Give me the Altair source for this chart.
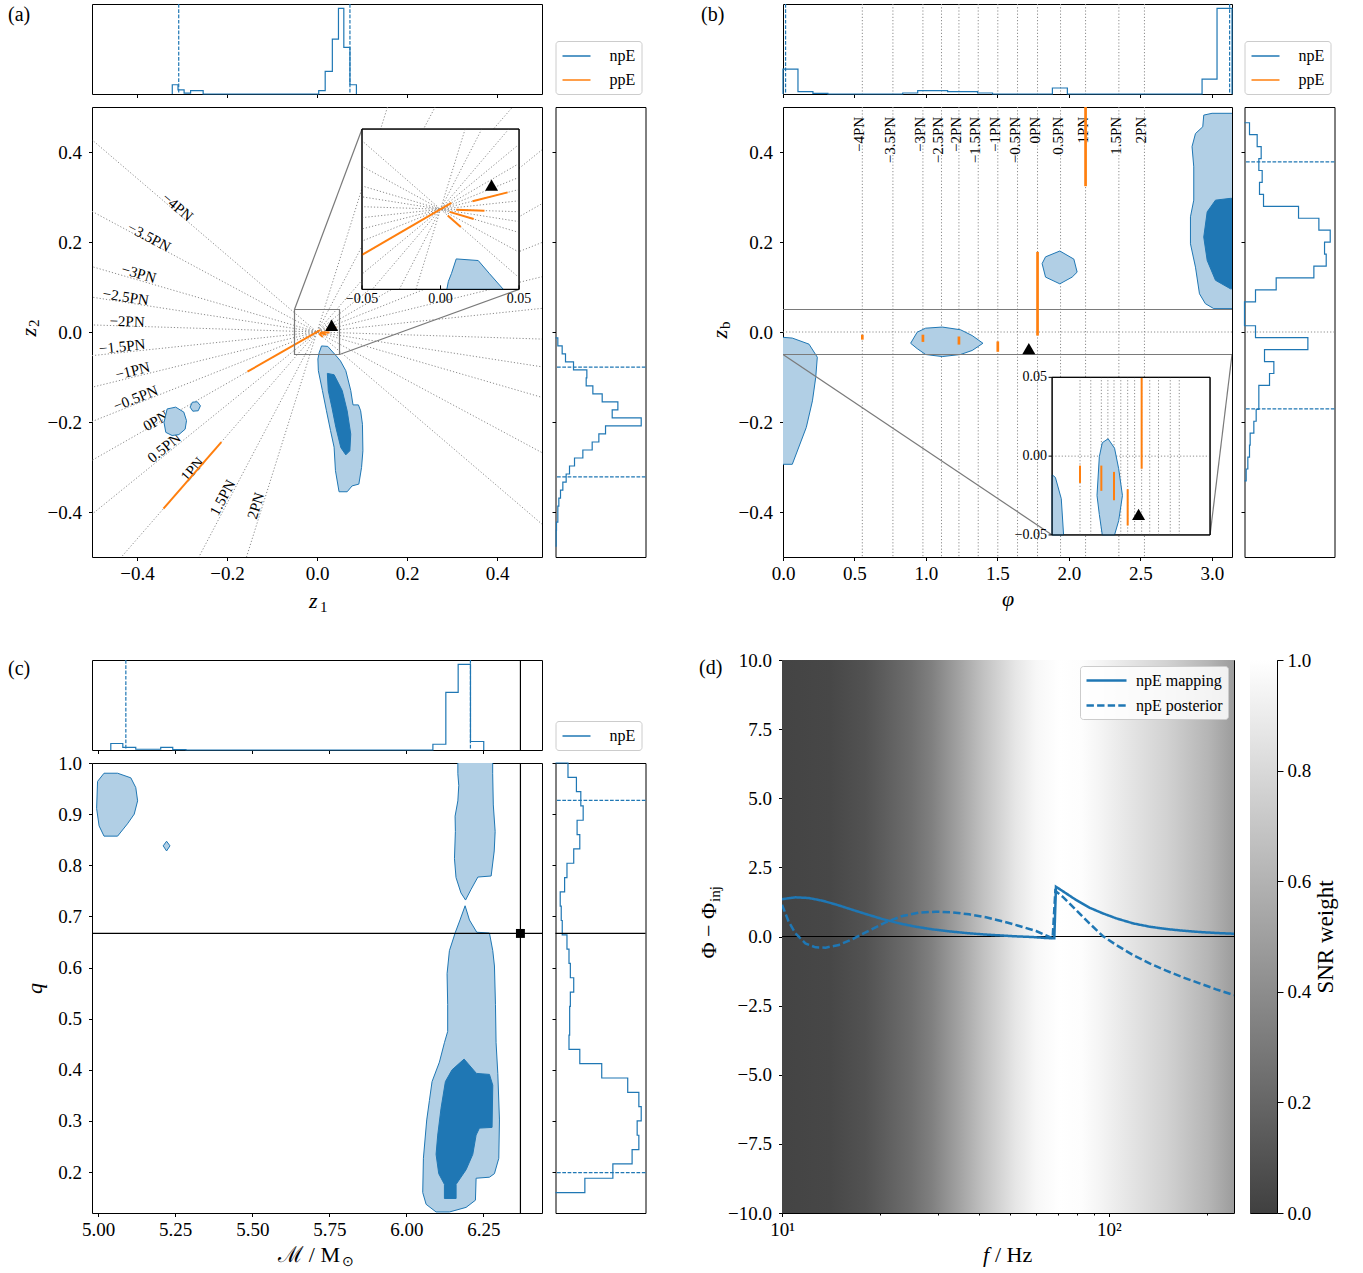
import numpy as np
import pandas as pd
import altair as alt

BLUE, ORANGE, LIGHT = "#1f77b4", "#ff7f0e", "#b1cfe5"
GRAY, DOTC = "#7a7a7a", "#8c8c8c"
FONT = "Liberation Serif"
PI = float(np.pi)
DOT = [1.2, 2.0]
DASH = [3.7, 1.6]
TICK_FONT = 19

# ---------------- PN orders (shared by a and b) ----------------
pn_labels = ["−4PN", "−3.5PN", "−3PN", "−2.5PN", "−2PN", "−1.5PN", "−1PN",
             "−0.5PN", "0PN", "0.5PN", "1PN", "1.5PN", "2PN"]
pn_phi = [0.555, 0.769, 0.979, 1.109, 1.231, 1.366, 1.503, 1.641, 1.781, 1.942, 2.117, 2.350, 2.529]
pn_theta_deg = [139.5, 151.8, 163.8, 171.2, 178.2, 186.0, 193.8, 201.7, 209.7, 219.0, 229.0, 242.3, 252.6]
pn_lab_x = [-0.310, -0.373, -0.396, -0.425, -0.422, -0.433, -0.410, -0.403, -0.358, -0.340, -0.277, -0.210, -0.136]
pn_lab_y = [0.278, 0.211, 0.130, 0.078, 0.024, -0.032, -0.086, -0.147, -0.197, -0.257, -0.305, -0.368, -0.386]

# ppE intervals along PN directions
ppe_pn = [0, 2, 4, 6, 8, 10]
ppe_lo = [-0.017, -0.022, -0.028, -0.044, -0.008, 0.324]
ppe_hi = [-0.006, -0.006, -0.010, -0.021, 0.178, 0.520]

# ---------------- panel (a) ----------------
a_main_x = [0.010, 0.024, 0.031, 0.040, 0.052, 0.064, 0.075, 0.080, 0.092, 0.097, 0.101, 0.102, 0.099,
            0.093, 0.078, 0.067, 0.049, 0.041, 0.038, 0.030, 0.021, 0.012, 0.003, 0.002, 0.005, 0.007]
a_main_y = [-0.031, -0.032, -0.040, -0.050, -0.064, -0.086, -0.130, -0.162, -0.162, -0.175, -0.205, -0.264,
            -0.301, -0.338, -0.342, -0.355, -0.355, -0.308, -0.256, -0.219, -0.175, -0.130, -0.086, -0.060,
            -0.045, -0.040]
a_dark_x = [0.023, 0.038, 0.056, 0.067, 0.075, 0.073, 0.064, 0.053, 0.042, 0.033, 0.025]
a_dark_y = [-0.092, -0.095, -0.130, -0.175, -0.227, -0.264, -0.273, -0.257, -0.212, -0.167, -0.130]
a_blob1_x = [-0.333, -0.314, -0.296, -0.290, -0.293, -0.307, -0.322, -0.336, -0.340]
a_blob1_y = [-0.171, -0.167, -0.178, -0.197, -0.216, -0.228, -0.230, -0.223, -0.201]
a_blob2_x = [-0.277, -0.266, -0.259, -0.264, -0.276, -0.282]
a_blob2_y = [-0.156, -0.155, -0.164, -0.175, -0.176, -0.167]
a_tri = (0.0325, 0.015)

a_top_c1_edges = [-0.3216, -0.3089, -0.2953, -0.2809, -0.2670, -0.2530]
a_top_c1_h = [0.108, 0.047, 0.010, 0.039, 0.039]
a_top_c2_edges = [0.0038, 0.0182, 0.0341, 0.0477, 0.0596, 0.0732, 0.0876]
a_top_c2_h = [0.039, 0.264, 0.640, 1.000, 0.543, 0.108]
a_top_q = [-0.3073, 0.0732]
a_right_top, a_right_bin = -0.013, 0.0178
a_right_h = [7, 20, 30, 54, 94, 92, 112, 140, 187, 170, 257, 150, 130, 110, 82, 57, 42, 32, 22, 15, 10, 7, 7, 3, 2, 2]
a_right_q = [-0.078, -0.322]

# ---------------- panel (b) ----------------
b_right_x = [2.944, 3.002, 3.25, 3.25, 3.014, 2.955, 2.914, 2.886, 2.851, 2.851, 2.874, 2.874, 2.862, 2.886, 2.937]
b_right_y = [0.482, 0.486, 0.486, 0.052, 0.052, 0.063, 0.085, 0.144, 0.196, 0.256, 0.293, 0.367, 0.412, 0.441, 0.456]
b_rdark_x = [3.25, 3.131, 3.026, 2.968, 2.944, 2.968, 3.026, 3.131, 3.25]
b_rdark_y = [0.297, 0.297, 0.293, 0.267, 0.211, 0.159, 0.115, 0.096, 0.096]
b_left_x = [-0.1, 0.007, 0.065, 0.182, 0.240, 0.229, 0.206, 0.163, 0.065, -0.1]
b_left_y = [-0.012, -0.012, -0.0135, -0.027, -0.056, -0.101, -0.153, -0.212, -0.294, -0.294]
b_mid_x = [0.893, 0.939, 0.998, 1.114, 1.242, 1.324, 1.399, 1.324, 1.242, 1.114, 0.998, 0.939]
b_mid_y = [-0.025, -0.0004, 0.0085, 0.011, 0.005, -0.008, -0.025, -0.041, -0.050, -0.0546, -0.050, -0.037]
b_hex_x = [1.813, 1.837, 1.937, 2.035, 2.058, 2.023, 1.937, 1.837]
b_hex_y = [0.152, 0.167, 0.180, 0.162, 0.133, 0.122, 0.107, 0.122]
b_tri = (1.72, -0.037)

b_top_h = [25, 2.3, 0.7, 0, 0, 0, 0, 0, 1, 3.3, 3.3, 2.3, 2.3, 1, 0, 0, 0, 0, 6, 0, 0, 0, 0, 0, 0, 0, 0, 0, 15, 86]
b_top_q = [0.018, 3.125]
b_right_range = [0.465, -0.331]
b_right_h = [15, 38, 50, 43, 53, 45, 57, 162, 223, 257, 240, 245, 208, 95, 33, 0, 0, 33, 190, 60, 88, 75, 43, 43,
             35, 28, 17, 15, 10, 5]
b_right_q = [0.378, -0.171]

# ---------------- panel (c) ----------------
c_up_x = [6.167, 6.280, 6.280, 6.282, 6.288, 6.285, 6.275, 6.232, 6.210, 6.192, 6.177, 6.161, 6.156, 6.159,
          6.158, 6.167, 6.170, 6.167]
c_up_y = [1.01, 1.01, 0.979, 0.918, 0.866, 0.828, 0.779, 0.777, 0.753, 0.732, 0.746, 0.776, 0.813, 0.866,
          0.896, 0.926, 0.956, 0.979]
c_low_x = [6.1905, 6.2046, 6.2284, 6.2695, 6.2803, 6.2857, 6.289, 6.291, 6.2966, 6.302, 6.2998, 6.2857, 6.2695,
           6.2262, 6.224, 6.1937, 6.1396, 6.0963, 6.064, 6.053, 6.0552, 6.066, 6.0747, 6.0833, 6.1071, 6.1234,
           6.134, 6.134, 6.132, 6.1396, 6.159, 6.174]
c_low_y = [0.7208, 0.693, 0.669, 0.6675, 0.633, 0.603, 0.528, 0.453, 0.393, 0.302, 0.227, 0.197, 0.190, 0.188,
           0.145, 0.131, 0.122, 0.122, 0.137, 0.160, 0.227, 0.302, 0.340, 0.377, 0.415, 0.453, 0.475, 0.528,
           0.588, 0.633, 0.669, 0.693]
c_dark_x = [6.1872, 6.2273, 6.2695, 6.2803, 6.278, 6.2370, 6.2262, 6.2154, 6.1937, 6.1613, 6.1613, 6.1234,
            6.1234, 6.105, 6.0963, 6.1017, 6.1125, 6.1266, 6.1482]
c_dark_y = [0.421, 0.393, 0.391, 0.370, 0.2874, 0.286, 0.2724, 0.2347, 0.2047, 0.176, 0.1484, 0.1484, 0.176,
            0.197, 0.2347, 0.2724, 0.325, 0.377, 0.400]
c_blob_x = [4.998, 5.019, 5.063, 5.106, 5.122, 5.128, 5.117, 5.095, 5.063, 5.019, 5.003, 4.995]
c_blob_y = [0.964, 0.980, 0.980, 0.971, 0.952, 0.926, 0.900, 0.881, 0.857, 0.857, 0.877, 0.911]
c_dia_x = [5.222, 5.233, 5.222, 5.211]
c_dia_y = [0.847, 0.838, 0.828, 0.838]
c_inj = (6.370, 0.6667)

c_top_c1_edges = [5.041, 5.080, 5.122, 5.161, 5.203, 5.242, 5.285]
c_top_c1_h = [0.076, 0.031, 0.009, 0.009, 0.031, 0.004]
c_top_c2_edges = [6.086, 6.128, 6.168, 6.208, 6.251]
c_top_c2_h = [0.067, 0.673, 1.0, 0.099]
c_top_q = [5.0898, 6.2078]
c_right_range = [1.0, 0.16]
c_right_h = [37, 62, 75, 82, 64, 72, 54, 34, 27, 14, 17, 20, 34, 40, 44, 54, 44, 42, 42, 40, 72, 137, 214, 247,
             254, 242, 247, 227, 170, 87]
c_right_q = [0.927, 0.199]

# ---------------- panel (d) ----------------
solid_f = [10.0, 10.99, 12.07, 13.27, 14.58, 16.02, 18.03, 20.27, 22.81, 25.64, 28.84, 32.43, 36.48, 41.0, 46.1,
           51.9, 58.3, 64.1, 68.1, 68.9, 74.0, 79.4, 87.2, 95.8, 105.3, 118.5, 133.2, 149.8, 168.5, 189.4, 213.0,
           241.5]
solid_y = [1.35, 1.417, 1.392, 1.296, 1.163, 1.007, 0.814, 0.633, 0.476, 0.355, 0.259, 0.187, 0.127, 0.078, 0.042,
           0.006, -0.018, -0.054, -0.066, 1.80, 1.561, 1.32, 1.043, 0.838, 0.657, 0.476, 0.355, 0.271, 0.211,
           0.163, 0.127, 0.10]
dashed_f = [10.0, 10.48, 10.99, 11.79, 12.66, 13.59, 14.92, 16.39, 18.45, 20.75, 23.35, 26.27, 29.55, 33.25, 37.4,
            42.1, 47.3, 53.2, 59.9, 67.3, 68.6, 72.2, 79.4, 87.2, 95.8, 105.3, 118.5, 133.2, 149.8, 168.5, 189.4,
            213.0, 241.5]
dashed_y = [1.15, 0.536, 0.115, -0.247, -0.392, -0.404, -0.307, -0.102, 0.211, 0.512, 0.741, 0.862, 0.898, 0.874,
            0.802, 0.693, 0.549, 0.380, 0.199, -0.066, 1.65, 1.441, 0.958, 0.476, 0.018, -0.307, -0.669, -0.970,
            -1.236, -1.477, -1.694, -1.911, -2.12]
snr_f = [10, 14, 18, 20.3, 24.9, 28.8, 33.7, 41, 45.3, 51.9, 59.9, 70.5, 82.5, 93.5, 111, 150, 202, 241.5]
snr_w = [0.022, 0.038, 0.095, 0.148, 0.242, 0.336, 0.482, 0.67, 0.754, 0.869, 0.958, 1.0, 0.99, 0.948, 0.88,
         0.765, 0.613, 0.482]
F_MAX = 241.5


# ================= helpers =================
def scale(lo, hi, **kw):
    return alt.Scale(domain=[lo, hi], nice=False, zero=False, **kw)


class Panel:
    """Shared scales + axes so that every layer carries identical axis definitions."""

    def __init__(self, sx, sy, ax=None, ay=None):
        self.sx, self.sy, self.ax, self.ay = sx, sy, ax, ay

    def X(self, f="x"):
        return alt.X(f"{f}:Q", scale=self.sx, axis=self.ax)

    def Y(self, f="y"):
        return alt.Y(f"{f}:Q", scale=self.sy, axis=self.ay)


def poly_layer(P, polys, fill, stroke, sw=1.0):
    rows = []
    for i, (xs, ys) in enumerate(polys):
        for k, (x, y) in enumerate(zip(xs, ys)):
            rows.append({"pid": i, "k": k, "x": float(x), "y": float(y)})
    return alt.Chart(pd.DataFrame(rows)).mark_line(
        interpolate="linear-closed", fill=fill, stroke=stroke, strokeWidth=sw, clip=True
    ).encode(x=P.X(), y=P.Y(), detail="pid:N", order="k:Q")


def seg_layer(P, df, color, sw, dash=None):
    kw = dict(color=color, strokeWidth=sw, clip=True)
    if dash:
        kw["strokeDash"] = dash
    return alt.Chart(df).mark_rule(**kw).encode(x=P.X(), y=P.Y(), x2="x2:Q", y2="y2:Q")


def vrule(P, xs, color, sw, dash=None):
    kw = dict(color=color, strokeWidth=sw)
    if dash:
        kw["strokeDash"] = dash
    return alt.Chart(pd.DataFrame({"x": list(xs)})).mark_rule(**kw).encode(x=P.X())


def hrule(P, ys, color, sw, dash=None):
    kw = dict(color=color, strokeWidth=sw)
    if dash:
        kw["strokeDash"] = dash
    return alt.Chart(pd.DataFrame({"y": list(ys)})).mark_rule(**kw).encode(y=P.Y())


def tri(P, xs, ys):
    return alt.Chart(pd.DataFrame({"x": list(xs), "y": list(ys)})).mark_point(
        shape="triangle-up", filled=True, color="black", size=170, opacity=1).encode(x=P.X(), y=P.Y())


def box(P, x0, x1, y0, y1, fill, stroke, sw):
    return alt.Chart(pd.DataFrame({"x": [x0], "x2": [x1], "y": [y0], "y2": [y1]})).mark_rect(
        fill=fill, stroke=stroke, strokeWidth=sw).encode(x=P.X(), x2="x2:Q", y=P.Y(), y2="y2:Q")


def txt(text, x, y, size=20, **kw):
    return alt.Chart(pd.DataFrame({"t": [text]})).mark_text(fontSize=size, color="black", **kw).encode(
        x=alt.value(x), y=alt.value(y), text="t:N")


def clip_poly(xs, ys, xmin, xmax, ymin, ymax):
    pts = list(zip(xs, ys))

    def _clip(pts, inside, inter):
        out = []
        for i in range(len(pts)):
            cur, prev = pts[i], pts[i - 1]
            if inside(cur):
                if not inside(prev):
                    out.append(inter(prev, cur))
                out.append(cur)
            elif inside(prev):
                out.append(inter(prev, cur))
        return out

    def ix(p, q, xv):
        t = (xv - p[0]) / (q[0] - p[0])
        return (xv, p[1] + t * (q[1] - p[1]))

    def iy(p, q, yv):
        t = (yv - p[1]) / (q[1] - p[1])
        return (p[0] + t * (q[0] - p[0]), yv)

    for inside, inter in [(lambda p: p[0] >= xmin, lambda p, q: ix(p, q, xmin)),
                          (lambda p: p[0] <= xmax, lambda p, q: ix(p, q, xmax)),
                          (lambda p: p[1] >= ymin, lambda p, q: iy(p, q, ymin)),
                          (lambda p: p[1] <= ymax, lambda p, q: iy(p, q, ymax))]:
        if not pts:
            break
        pts = _clip(pts, inside, inter)
    if len(pts) < 3:
        return None
    return [p[0] for p in pts], [p[1] for p in pts]


def step_path(clusters, horizontal=True):
    xs, ys = [], []
    for edges, hs in clusters:
        xs.append(edges[0]); ys.append(0.0)
        for i, h in enumerate(hs):
            xs += [edges[i], edges[i + 1]]; ys += [h, h]
        xs.append(edges[-1]); ys.append(0.0)
    if horizontal:
        return pd.DataFrame({"x": xs, "y": ys, "k": list(range(len(xs)))})
    return pd.DataFrame({"x": ys, "y": xs, "k": list(range(len(xs)))})


def hist_layer(P, df):
    return alt.Chart(df).mark_line(color=BLUE, strokeWidth=1.2).encode(x=P.X(), y=P.Y(), order="k:Q")


def norm(h):
    h = np.asarray(h, dtype=float)
    return list(h / h.max())


def legend_cell(names, colors, extra=()):
    df = pd.DataFrame({"x": [5.0, 6.0] * len(names), "y": [5.0, 6.0] * len(names),
                       "s": sum([[n, n] for n in names], [])})
    ch = alt.Chart(df).mark_line(clip=True, strokeWidth=1.5).encode(
        x=alt.X("x:Q", scale=alt.Scale(domain=[0, 1]), axis=None),
        y=alt.Y("y:Q", scale=alt.Scale(domain=[0, 1]), axis=None),
        color=alt.Color("s:N", scale=alt.Scale(domain=names, range=colors),
                        legend=alt.Legend(orient="bottom-left", offset=0, title=None,
                                          symbolType="M-1,0H2.5", symbolSize=256, symbolStrokeWidth=1.5,
                                          labelFont=FONT, labelFontSize=16, labelColor="black",
                                          fillColor="white", strokeColor="#cccccc", cornerRadius=3,
                                          padding=6, rowPadding=7, labelOffset=30)))
    return alt.layer(ch, *extra).properties(width=90, height=90, view=alt.ViewBackground(stroke="transparent"))


def indep(ch):
    return ch.resolve_scale(color="independent", strokeDash="independent").resolve_legend(
        color="independent", strokeDash="independent")


def tick_axis(values):
    return alt.Axis(values=values, labels=False, title=None)


hist_scale = scale(0, 1.05)

# ================= panel (a) main =================
ticks_a = [-0.4, -0.2, 0.0, 0.2, 0.4]
PA = Panel(scale(-0.5, 0.5), scale(-0.5, 0.5),
           alt.Axis(values=ticks_a, format=".1f", title=None),
           alt.Axis(values=ticks_a, format=".1f", title=None))

rad = []
for lab, th in zip(pn_labels, pn_theta_deg):
    c, s = np.cos(np.radians(th)), np.sin(np.radians(th))
    rad += [{"pn": lab, "k": 0, "x": -c, "y": -s}, {"pn": lab, "k": 1, "x": c, "y": s}]
LA = [alt.Chart(pd.DataFrame(rad)).mark_line(color=DOTC, strokeWidth=1, strokeDash=DOT, clip=True).encode(
    x=PA.X(), y=PA.Y(), detail="pn:N", order="k:Q")]

lab_df = pd.DataFrame({"x": pn_lab_x, "y": pn_lab_y, "t": pn_labels,
                       "ang": [(180.0 - th) % 360.0 for th in pn_theta_deg]})
LA.append(alt.Chart(lab_df).mark_text(fontSize=15, align="center", baseline="middle", color="black").encode(
    x=PA.X(), y=PA.Y(), text="t:N", angle=alt.Angle("ang:Q", scale=None)))

a_light_polys = [(a_main_x, a_main_y), (a_blob1_x, a_blob1_y), (a_blob2_x, a_blob2_y)]
LA.append(poly_layer(PA, a_light_polys, LIGHT, BLUE))
LA.append(poly_layer(PA, [(a_dark_x, a_dark_y)], BLUE, BLUE))


def ppe_a(limit=None):
    rows = []
    for idx, lo, hi in zip(ppe_pn, ppe_lo, ppe_hi):
        th = np.radians(pn_theta_deg[idx]); c, s = np.cos(th), np.sin(th)
        if limit is not None:
            t = limit / max(abs(c), abs(s)); lo, hi = max(lo, -t), min(hi, t)
            if lo >= hi:
                continue
        rows.append({"x": lo * c, "y": lo * s, "x2": hi * c, "y2": hi * s})
    return pd.DataFrame(rows)


LA.append(seg_layer(PA, ppe_a(), ORANGE, 2.0))
LA.append(tri(PA, [a_tri[0]], [a_tri[1]]))
LA.append(box(PA, -0.05, 0.05, -0.05, 0.05, "transparent", GRAY, 1.2))

IA = (0.100, 0.449, 0.0947, 0.451)


def map_a(u, v):
    u = np.asarray(u, dtype=float); v = np.asarray(v, dtype=float)
    return IA[0] + (u + 0.05) / 0.1 * (IA[1] - IA[0]), IA[2] + (v + 0.05) / 0.1 * (IA[3] - IA[2])


LA.append(seg_layer(PA, pd.DataFrame({"x": [-0.05, 0.05], "y": [0.05, -0.05], "x2": [IA[0], IA[1]],
                                      "y2": [IA[3], IA[2]]}), GRAY, 1.2))
LA.append(box(PA, IA[0], IA[1], IA[2], IA[3], "white", "black", 1))
irad = []
for lab, th in zip(pn_labels, pn_theta_deg):
    c, s = np.cos(np.radians(th)), np.sin(np.radians(th))
    t = 0.05 / max(abs(c), abs(s))
    (x1, x2), (y1, y2) = map_a([-t * c, t * c], [-t * s, t * s])
    irad.append({"x": x1, "y": y1, "x2": x2, "y2": y2})
LA.append(seg_layer(PA, pd.DataFrame(irad), DOTC, 1, DOT))
ipolys = []
for xs, ys in a_light_polys:
    cp = clip_poly(xs, ys, -0.05, 0.05, -0.05, 0.05)
    if cp:
        mx, my = map_a(cp[0], cp[1]); ipolys.append((mx, my))
if ipolys:
    LA.append(poly_layer(PA, ipolys, LIGHT, BLUE))
ip = ppe_a(limit=0.05)
ip["x"], ip["y"] = map_a(ip["x"], ip["y"])
ip["x2"], ip["y2"] = map_a(ip["x2"], ip["y2"])
LA.append(seg_layer(PA, ip, ORANGE, 2.0))
tx, ty = map_a([a_tri[0]], [a_tri[1]])
LA.append(tri(PA, tx, ty))
LA.append(box(PA, IA[0], IA[1], IA[2], IA[3], "transparent", "black", 1))
itk_x, _ = map_a([-0.05, 0.0, 0.05], [0, 0, 0])
LA.append(alt.Chart(pd.DataFrame({"x": itk_x, "y": [IA[2]] * 3, "t": ["−0.05", "0.00", "0.05"]})).mark_text(
    fontSize=14, baseline="top", dy=3, color="black").encode(x=PA.X(), y=PA.Y(), text="t:N"))
LA.append(seg_layer(PA, pd.DataFrame({"x": itk_x, "x2": itk_x, "y": [IA[2]] * 3, "y2": [IA[2] + 0.009] * 3}),
                    "black", 1))
LA += [txt("z", 217, 501, 22, align="left", baseline="alphabetic", fontStyle="italic"),
       txt("1", 228, 505, 15, align="left", baseline="alphabetic"),
       txt("z", -56, 221, 22, angle=270, align="right", baseline="alphabetic", fontStyle="italic"),
       txt("2", -53, 220, 15, angle=270, align="left", baseline="alphabetic")]
main_a = alt.layer(*LA).properties(width=450, height=450)

# top/right hist (a)
PAt = Panel(PA.sx, hist_scale, tick_axis(ticks_a), None)
top_a = alt.layer(
    hist_layer(PAt, step_path([(a_top_c1_edges, a_top_c1_h), (a_top_c2_edges, a_top_c2_h)])),
    vrule(PAt, a_top_q, BLUE, 1.2, DASH),
    txt("(a)", -84, 1, 20, align="left", baseline="top"),
).properties(width=450, height=90)

PAr = Panel(hist_scale, PA.sy, None, tick_axis(ticks_a))
a_r_edges = [a_right_top - a_right_bin * i for i in range(len(a_right_h) + 1)]
right_a = alt.layer(
    hist_layer(PAr, step_path([(a_r_edges, norm(a_right_h))], horizontal=False)),
    hrule(PAr, a_right_q, BLUE, 1.2, DASH),
).properties(width=90, height=450)
leg_a = legend_cell(["npE", "ppE"], [BLUE, ORANGE])

# ================= panel (b) main =================
ticks_bx = [0.0, 0.5, 1.0, 1.5, 2.0, 2.5, 3.0]
PB = Panel(scale(0, PI), scale(-0.5, 0.5),
           alt.Axis(values=ticks_bx, format=".1f", title="φ", titleFontStyle="italic"),
           alt.Axis(values=ticks_a, format=".1f", title=None))
pn_df = pd.DataFrame({"x": pn_phi, "t": pn_labels, "y": [0.478] * len(pn_phi)})
LB = [vrule(PB, pn_phi, DOTC, 1, DOT), hrule(PB, [0.0], DOTC, 1, DOT),
      alt.Chart(pn_df).mark_text(fontSize=15, angle=270, align="right", baseline="alphabetic", dy=2,
                                 color="black").encode(x=PB.X(), y=PB.Y(), text="t:N")]
b_light_polys = [(b_right_x, b_right_y), (b_left_x, b_left_y), (b_mid_x, b_mid_y), (b_hex_x, b_hex_y)]
LB.append(poly_layer(PB, b_light_polys, LIGHT, BLUE))
LB.append(poly_layer(PB, [(b_rdark_x, b_rdark_y)], BLUE, BLUE))
LB.append(hrule(PB, [-0.05, 0.05], GRAY, 1.2))
ppe_b = pd.DataFrame({"x": [pn_phi[i] for i in ppe_pn], "y": ppe_lo, "y2": ppe_hi})
LB.append(alt.Chart(ppe_b).mark_rule(color=ORANGE, strokeWidth=2.7, clip=True).encode(
    x=PB.X(), y=PB.Y(), y2="y2:Q"))
LB.append(tri(PB, [b_tri[0]], [b_tri[1]]))

IB = (1.883, 2.988, -0.451, -0.1007)


def map_b(u, v):
    u = np.asarray(u, dtype=float); v = np.asarray(v, dtype=float)
    return IB[0] + u / PI * (IB[1] - IB[0]), IB[2] + (v + 0.05) / 0.1 * (IB[3] - IB[2])


LB.append(seg_layer(PB, pd.DataFrame({"x": [0.0, PI], "y": [-0.05, -0.05], "x2": [IB[0], IB[1]],
                                      "y2": [IB[2], IB[2]]}), GRAY, 1.2))
LB.append(box(PB, IB[0], IB[1], IB[2], IB[3], "white", "black", 1))
vx, _ = map_b(pn_phi, np.zeros(len(pn_phi)))
LB.append(seg_layer(PB, pd.DataFrame({"x": vx, "x2": vx, "y": [IB[2]] * len(vx), "y2": [IB[3]] * len(vx)}),
                    DOTC, 1, DOT))
_, y0m = map_b([0], [0])
LB.append(seg_layer(PB, pd.DataFrame({"x": [IB[0]], "x2": [IB[1]], "y": y0m, "y2": y0m}), DOTC, 1, DOT))
ipb = []
for xs, ys in b_light_polys:
    cp = clip_poly(xs, ys, 0.0, PI, -0.05, 0.05)
    if cp:
        mx, my = map_b(cp[0], cp[1]); ipb.append((mx, my))
if ipb:
    LB.append(poly_layer(PB, ipb, LIGHT, BLUE))
rows = []
for i, lo, hi in zip(ppe_pn, ppe_lo, ppe_hi):
    lo2, hi2 = max(lo, -0.05), min(hi, 0.05)
    if lo2 < hi2:
        (mx,), (m1,) = map_b([pn_phi[i]], [lo2])
        _, (m2,) = map_b([pn_phi[i]], [hi2])
        rows.append({"x": mx, "x2": mx, "y": m1, "y2": m2})
LB.append(seg_layer(PB, pd.DataFrame(rows), ORANGE, 2.0))
tbx, tby = map_b([b_tri[0]], [b_tri[1]])
LB.append(tri(PB, tbx, tby))
LB.append(box(PB, IB[0], IB[1], IB[2], IB[3], "transparent", "black", 1))
_, ity = map_b([0, 0, 0], [0.05, 0.0, -0.05])
LB.append(alt.Chart(pd.DataFrame({"x": [IB[0]] * 3, "y": ity, "t": ["0.05", "0.00", "−0.05"]})).mark_text(
    fontSize=14, align="right", baseline="middle", dx=-5, color="black").encode(
    x=PB.X(), y=PB.Y(), text="t:N"))
LB.append(seg_layer(PB, pd.DataFrame({"x": [IB[0]] * 3, "x2": [IB[0] - 0.025] * 3, "y": ity, "y2": ity}),
                    "black", 1))
LB += [txt("z", -56, 223, 22, angle=270, align="right", baseline="alphabetic", fontStyle="italic"),
       txt("b", -53, 222, 15, angle=270, align="left", baseline="alphabetic")]
main_b = alt.layer(*LB).properties(width=449, height=450)

PBt = Panel(PB.sx, hist_scale, tick_axis(ticks_bx), None)
b_edges = list(np.linspace(0, PI, len(b_top_h) + 1))
top_b = alt.layer(
    vrule(PBt, pn_phi, DOTC, 1, DOT),
    hist_layer(PBt, step_path([(b_edges, norm(b_top_h))])),
    vrule(PBt, b_top_q, BLUE, 1.2, DASH),
    txt("(b)", -82, 1, 20, align="left", baseline="top"),
).properties(width=449, height=90)
PBr = Panel(hist_scale, PB.sy, None, tick_axis(ticks_a))
b_r_edges = list(np.linspace(b_right_range[0], b_right_range[1], len(b_right_h) + 1))
right_b = alt.layer(
    hrule(PBr, [0.0], DOTC, 1, DOT),
    hist_layer(PBr, step_path([(b_r_edges, norm(b_right_h))], horizontal=False)),
    hrule(PBr, b_right_q, BLUE, 1.2, DASH),
).properties(width=90, height=450)
leg_b = legend_cell(["npE", "ppE"], [BLUE, ORANGE])

# ================= panel (c) =================
ticks_cx = [5.0, 5.25, 5.5, 5.75, 6.0, 6.25]
ticks_cy = [0.2, 0.3, 0.4, 0.5, 0.6, 0.7, 0.8, 0.9, 1.0]
PC = Panel(scale(4.98, 6.44), scale(0.12, 1.0),
           alt.Axis(values=ticks_cx, format=".2f", title=None),
           alt.Axis(values=ticks_cy, format=".1f", title="q", titleFontStyle="italic", titlePadding=11))
LC = [poly_layer(PC, [(c_up_x, c_up_y), (c_low_x, c_low_y), (c_blob_x, c_blob_y), (c_dia_x, c_dia_y)],
                 LIGHT, BLUE),
      poly_layer(PC, [(c_dark_x, c_dark_y)], BLUE, BLUE),
      vrule(PC, [c_inj[0]], "black", 1.2),
      hrule(PC, [c_inj[1]], "black", 1.2),
      alt.Chart(pd.DataFrame({"x": [c_inj[0]], "y": [c_inj[1]]})).mark_square(
          color="black", size=80, opacity=1).encode(x=PC.X(), y=PC.Y()),
      txt("ℳ / M", 248, 499, 22, align="right", baseline="alphabetic"),
      txt("⊙", 250, 503, 14, align="left", baseline="alphabetic")]
main_c = alt.layer(*LC).properties(width=450, height=450)

inv = txt("0", 0, 0, TICK_FONT, align="left", baseline="middle", opacity=0)
PCt = Panel(PC.sx, hist_scale, tick_axis(ticks_cx), None)
top_c = alt.layer(
    hist_layer(PCt, step_path([(c_top_c1_edges, c_top_c1_h), (c_top_c2_edges, c_top_c2_h)])),
    vrule(PCt, c_top_q, BLUE, 1.2, DASH),
    vrule(PCt, [c_inj[0]], "black", 1.2),
    txt("(c)", -84, -1, 20, align="left", baseline="top"),
    inv,
).properties(width=450, height=90)
PCr = Panel(hist_scale, PC.sy, None, tick_axis(ticks_cy))
c_r_edges = list(np.linspace(c_right_range[0], c_right_range[1], len(c_right_h) + 1))
right_c = alt.layer(
    hist_layer(PCr, step_path([(c_r_edges, norm(c_right_h))], horizontal=False)),
    hrule(PCr, c_right_q, BLUE, 1.2, DASH),
    hrule(PCr, [c_inj[1]], "black", 1.2),
).properties(width=90, height=450)
leg_c = legend_cell(["npE"], [BLUE], extra=(inv,))

# ================= panel (d) =================


def gray_hex(w):
    g = int(round(255 * (0.25 + 0.75 * w)))
    return f"#{g:02x}{g:02x}{g:02x}"


stops = [{"offset": float(np.log10(f / 10.0) / np.log10(F_MAX / 10.0)), "color": gray_hex(w)}
         for f, w in zip(snr_f, snr_w)]
bg_grad = {"gradient": "linear", "x1": 0, "y1": 0, "x2": 1, "y2": 0, "stops": stops}
PD = Panel(alt.Scale(type="log", domain=[10, F_MAX], nice=False), scale(-10, 10),
           alt.Axis(values=[10, 20, 30, 40, 50, 60, 70, 80, 90, 100, 200], title=None,
                    labelExpr="datum.value == 10 ? '10¹' : (datum.value == 100 ? '10²' : '')",
                    tickSize={"condition": {"test": "datum.value == 10 || datum.value == 100", "value": 3.5},
                              "value": 2.0}),
           alt.Axis(values=[-10, -7.5, -5, -2.5, 0, 2.5, 5, 7.5, 10], format=".1f", title=None))
d_df = pd.concat([
    pd.DataFrame({"x": solid_f, "y": solid_y, "s": "npE mapping", "k": list(range(len(solid_f)))}),
    pd.DataFrame({"x": dashed_f, "y": dashed_y, "s": "npE posterior", "k": list(range(len(dashed_f)))})])
LD = [box(PD, 10.0, F_MAX, -10.0, 10.0, bg_grad, "transparent", 0),
      hrule(PD, [0.0], "black", 1.2),
      alt.Chart(d_df).mark_line(color=BLUE, strokeWidth=2.5, clip=True).encode(
          x=PD.X(), y=PD.Y(), order="k:Q",
          strokeDash=alt.StrokeDash("s:N", scale=alt.Scale(domain=["npE mapping", "npE posterior"],
                                                           range=[[1, 0], [7.4, 3.2]]),
                                    legend=alt.Legend(orient="top-right", offset=6, title=None,
                                                      symbolType="M-1,0H4", symbolSize=256,
                                                      symbolStrokeWidth=2.5, symbolStrokeColor=BLUE,
                                                      labelFont=FONT, labelFontSize=16, labelColor="black",
                                                      fillColor="rgba(255,255,255,0.85)", strokeColor="#cccccc",
                                                      cornerRadius=3, padding=5, rowPadding=7, labelOffset=32))),
      txt("Φ − Φ", -66, 243, 22, angle=270, align="right", baseline="alphabetic"),
      txt("inj", -62, 242, 15, angle=270, align="left", baseline="alphabetic"),
      txt("f", 201, 602, 22, align="left", baseline="alphabetic", fontStyle="italic"),
      txt("/ Hz", 213, 602, 22, align="left", baseline="alphabetic"),
      txt("(d)", -83, -2, 20, align="left", baseline="top")]
main_d = alt.layer(*LD).properties(width=452, height=553)

cb_grad = {"gradient": "linear", "x1": 0, "y1": 1, "x2": 0, "y2": 0,
           "stops": [{"offset": 0.0, "color": gray_hex(0.0)}, {"offset": 1.0, "color": gray_hex(1.0)}]}
colorbar = alt.Chart(pd.DataFrame({"y": [0.0], "y2": [1.0]})).mark_rect(fill=cb_grad).encode(
    x=alt.value(0), x2=alt.value(27),
    y=alt.Y("y:Q", scale=scale(0, 1),
            axis=alt.Axis(orient="right", values=[0, 0.2, 0.4, 0.6, 0.8, 1.0], format=".1f",
                          title="SNR weight", titleAngle=270, titleBaseline="top", titlePadding=4,
                          titleFontSize=23, tickSize=6, labelPadding=4)),
    y2="y2:Q").properties(width=27, height=553)

# ================= assembly =================
partA = indep(alt.hconcat(indep(alt.vconcat(top_a, main_a, spacing=13, bounds="flush")),
                          indep(alt.vconcat(leg_a, right_a, spacing=13, bounds="flush")), spacing=7.5))
partB = indep(alt.hconcat(indep(alt.vconcat(top_b, main_b, spacing=13, bounds="flush")),
                          indep(alt.vconcat(leg_b, right_b, spacing=13, bounds="flush")), spacing=4.5))
partC = indep(alt.hconcat(indep(alt.vconcat(top_c, main_c, spacing=13, bounds="flush")),
                          indep(alt.vconcat(leg_c, right_c, spacing=13, bounds="flush")), spacing=6.5))
partD = indep(alt.hconcat(main_d, colorbar, spacing=13))
row1 = indep(alt.hconcat(partA, partB, spacing=53))
row2 = indep(alt.hconcat(partC, partD, spacing=50))

chart = indep(alt.vconcat(row1, row2, spacing=34)).properties(
    padding={"left": 7, "top": 2, "right": 5, "bottom": 5}
).configure_axis(
    labelFont=FONT, labelFontSize=TICK_FONT, labelColor="black", tickColor="black", tickWidth=1, tickSize=3.5,
    domain=False, grid=False, titleFont=FONT, titleFontSize=22, titleFontWeight="normal", titleColor="black",
    labelPadding=4, titlePadding=5, labelFlush=False
).configure_axisY(labelPadding=7).configure_view(stroke="black", strokeWidth=1).configure_text(font=FONT)

chart.save("out.html", embed_options={"renderer": "svg", "actions": False})
